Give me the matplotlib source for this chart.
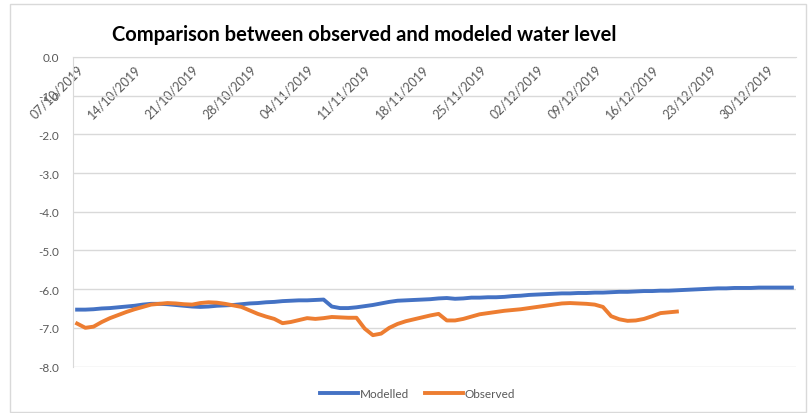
import matplotlib
matplotlib.use('Agg')
import matplotlib.pyplot as plt
from matplotlib.patches import Rectangle
import pandas as pd
import numpy as np

plt.rcParams['font.family'] = ['Lato', 'DejaVu Sans']

# daily water level (m), starting 07/10/2019
start_date = '2019-10-07'
modelled = [
    -6.53, -6.53, -6.52, -6.50, -6.49, -6.47, -6.45, -6.43, -6.40, -6.38,
    -6.38, -6.39, -6.41, -6.43, -6.45, -6.46, -6.45, -6.43, -6.42, -6.41,
    -6.39, -6.37, -6.36, -6.34, -6.33, -6.31, -6.30, -6.29, -6.29, -6.28,
    -6.27, -6.45, -6.49, -6.49, -6.47, -6.44, -6.41, -6.37, -6.33, -6.30,
    -6.29, -6.28, -6.27, -6.26, -6.24, -6.23, -6.25, -6.24, -6.22, -6.22,
    -6.21, -6.21, -6.20, -6.18, -6.17, -6.15, -6.14, -6.13, -6.12, -6.11,
    -6.11, -6.10, -6.10, -6.09, -6.09, -6.08, -6.07, -6.07, -6.06, -6.05,
    -6.05, -6.04, -6.04, -6.03, -6.02, -6.01, -6.00, -5.99, -5.98, -5.98,
    -5.97, -5.97, -5.97, -5.96, -5.96, -5.96, -5.96, -5.96,
]
observed = [
    -6.89, -7.00, -6.97, -6.85, -6.75, -6.67, -6.59, -6.52, -6.46, -6.40,
    -6.38, -6.36, -6.37, -6.39, -6.40, -6.36, -6.34, -6.35, -6.38, -6.42,
    -6.46, -6.55, -6.64, -6.71, -6.77, -6.88, -6.85, -6.80, -6.75, -6.77,
    -6.75, -6.72, -6.73, -6.74, -6.74, -7.02, -7.19, -7.15, -7.00, -6.90,
    -6.83, -6.78, -6.73, -6.68, -6.64, -6.81, -6.81, -6.77, -6.71, -6.65,
    -6.62, -6.59, -6.56, -6.54, -6.52, -6.49, -6.46, -6.43, -6.40, -6.37,
    -6.36, -6.37, -6.38, -6.40, -6.46, -6.70, -6.78, -6.82, -6.81, -6.77,
    -6.70, -6.62, -6.60, -6.58,
]
y_ticks = [0, -1, -2, -3, -4, -5, -6, -7, -8]

days = pd.date_range(start_date, periods=len(modelled), freq='D')
obs_days = days[:len(observed)]
tick_dates = pd.date_range(start_date, days[-1], freq='7D')

fig = plt.figure(figsize=(8.08, 4.14), dpi=100)
ax = fig.add_axes([73 / 808, 1 - 367.5 / 414, (796 - 73) / 808, (367.5 - 58) / 414])

ax.plot(days, modelled, color='#4472C4', lw=2.8, label='Modelled')
ax.plot(obs_days, observed, color='#ED7D31', lw=2.8, label='Observed')

half_day = pd.Timedelta(hours=12)
ax.set_xlim(days[0] - half_day, days[-1] + half_day)
ax.set_ylim(-8, 0)

# value axis crosses the date axis at 0, so dates hang from the top line
ax.spines['bottom'].set_position(('data', 0))
ax.spines['bottom'].set_color('#d9d9d9')
ax.spines['left'].set_color('#d9d9d9')
ax.spines['top'].set_visible(False)
ax.spines['right'].set_visible(False)

ax.set_yticks(y_ticks)
ax.set_yticklabels(['%.1f' % v for v in y_ticks])
ax.yaxis.grid(True, color='#d9d9d9', lw=1)
ax.set_axisbelow(True)

ax.set_xticks(tick_dates)
ax.set_xticklabels([d.strftime('%d/%m/%Y') for d in tick_dates],
                   rotation=45, ha='right', va='top', rotation_mode='anchor')
ax.tick_params(axis='x', length=0, labelsize=9, labelcolor='#595959', pad=4)
ax.tick_params(axis='y', length=0, labelsize=8.5, labelcolor='#595959', pad=10)

fig.text(112 / 808, 1 - 35 / 414, 'Comparison between observed and modeled water level',
         fontsize=14.5, fontweight='bold', color='#000000', ha='left', va='center')

leg = fig.legend(loc='center', bbox_to_anchor=(0.517, 1 - 395 / 414), ncol=2,
                 frameon=False, fontsize=8.5, handlelength=3.2, handletextpad=0.2,
                 columnspacing=1.3)
for t in leg.get_texts():
    t.set_color('#595959')

fig.patches.append(Rectangle((10 / 808, 1 - 413 / 414), 796 / 808, 408 / 414,
                             transform=fig.transFigure, fill=False,
                             ec='#d9d9d9', lw=1))

fig.savefig('out.png', dpi=100)
